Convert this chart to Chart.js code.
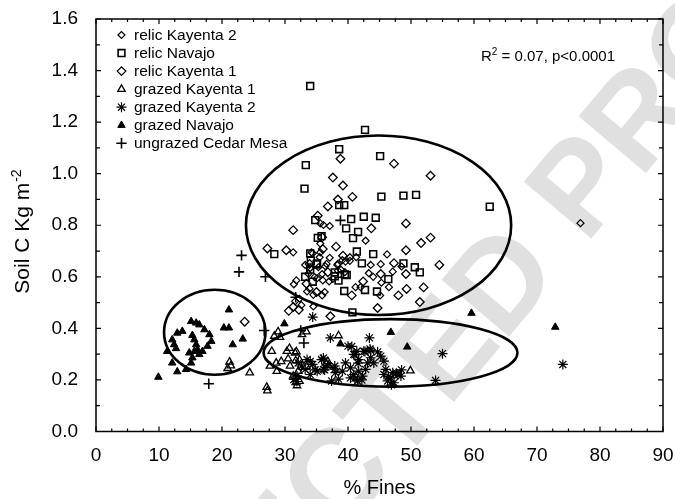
<!DOCTYPE html>
<html><head><meta charset="utf-8">
<script src="https://cdn.jsdelivr.net/npm/chart.js@4.4.0/dist/chart.umd.min.js"></script>
<style>html,body{margin:0;padding:0;background:#fff}#wrap{width:675px;height:499px;position:relative}</style>
</head><body><div id="wrap"><canvas id="c"></canvas></div>
<script>
// ---------------- data ----------------
const seriesNames = ["relic Kayenta 2","relic Navajo","relic Kayenta 1","grazed Kayenta 1","grazed Kayenta 2","grazed Navajo","ungrazed Cedar Mesa"];

const relicKayenta2 = [[35.6,0.807],[37.1,0.797],[36.1,0.801],[42.8,0.740],[46.2,0.687],[31.3,0.695],[34.4,0.691],[35.6,0.695],[37.1,0.674],[40.3,0.662],[43.6,0.646],[45.2,0.649],[33.2,0.646],[35.9,0.611],[38.9,0.627],[47.1,0.620],[43.3,0.614],[41.2,0.560],[45.3,0.577],[31.4,0.571],[33.5,0.543],[34.5,0.530],[35.9,0.528],[37.0,0.582],[45.1,0.528],[31.6,0.505],[34.5,0.485],[76.9,0.808],[35.6,0.729],[35.1,0.595],[34.0,0.634],[36.4,0.641],[38.3,0.646],[39.1,0.665],[39.6,0.659],[34.2,0.695],[35.5,0.676],[35.3,0.637],[36.6,0.650],[33.7,0.612],[34.7,0.599],[36.0,0.586],[37.6,0.592],[38.4,0.650],[40.3,0.676],[41.3,0.676],[38.4,0.624],[39.5,0.618],[33.9,0.554],[36.3,0.541],[32.3,0.515],[32.6,0.490],[31.8,0.586],[42.0,0.560],[44.0,0.600],[46.5,0.560],[48.5,0.640]];

const relicNavajo = [[34.0,1.34],[42.7,1.17],[38.6,1.095],[45.1,1.068],[33.3,1.033],[33.1,0.942],[45.3,0.911],[48.8,0.915],[50.8,0.918],[62.5,0.872],[38.6,0.878],[39.4,0.878],[40.5,0.824],[42.5,0.833],[44.4,0.829],[34.8,0.82],[39.7,0.788],[41.6,0.774],[40.8,0.75],[35.2,0.751],[35.8,0.758],[41.4,0.698],[44.0,0.688],[48.8,0.652],[50.6,0.637],[51.4,0.617],[46.4,0.591],[42.2,0.652],[34.0,0.691],[28.3,0.688],[35.1,0.652],[37.9,0.617],[39.8,0.607],[33.2,0.60],[34.4,0.581],[38.5,0.585],[39.4,0.545],[42.7,0.549],[44.6,0.543],[40.7,0.462],[34.1,0.663],[35.0,0.648],[34.0,0.628],[37.9,0.602],[39.5,0.609]];

const relicKayenta1 = [[38.8,1.058],[47.3,1.039],[53.1,0.992],[37.6,0.985],[39.2,0.954],[36.8,0.873],[38.4,0.900],[40.7,0.910],[35.2,0.837],[31.3,0.781],[49.2,0.807],[43.7,0.788],[35.9,0.753],[38.1,0.717],[53.1,0.752],[51.6,0.731],[49.2,0.703],[27.2,0.710],[30.2,0.703],[54.5,0.646],[47.3,0.653],[49.2,0.611],[52.0,0.559],[48.0,0.528],[51.4,0.502],[44.7,0.479],[37.2,0.447],[30.6,0.468],[32.2,0.472],[23.6,0.426],[45.2,0.611],[42.4,0.582],[36.0,0.708],[33.9,0.650],[39.2,0.682],[36.8,0.618],[33.4,0.573],[35.0,0.541],[31.3,0.483],[40.6,0.528],[49.3,0.553]];

const grazedKayenta1 = [[21.2,0.27],[21.4,0.255],[20.9,0.245],[24.4,0.228],[27.1,0.172],[27.2,0.158],[27.9,0.311],[28.3,0.37],[29.2,0.366],[28.6,0.266],[27.6,0.254],[28.7,0.234],[30.3,0.311],[31.6,0.305],[30.5,0.282],[31.7,0.275],[31.9,0.178],[31.7,0.19],[32.7,0.376],[38.5,0.372],[36.5,0.266],[36.9,0.257],[49.9,0.236],[30.8,0.254],[32.1,0.234],[31.3,0.215],[28.9,0.387],[33.4,0.387],[30.7,0.323],[31.8,0.31],[29.4,0.272],[32.3,0.278],[33.4,0.253],[36.8,0.272],[32.3,0.195]];

const grazedKayenta2 = [[74.1,0.26],[55.0,0.302],[53.9,0.198],[34.4,0.444],[37.2,0.363],[43.4,0.363],[40.0,0.331],[40.9,0.299],[42.5,0.311],[43.6,0.314],[44.7,0.309],[45.7,0.273],[41.7,0.279],[43.1,0.266],[40.4,0.247],[41.7,0.234],[39.1,0.234],[38.0,0.228],[36.1,0.241],[35.1,0.234],[33.2,0.241],[33.5,0.279],[32.1,0.266],[35.8,0.279],[37.4,0.196],[40.4,0.208],[41.5,0.196],[42.3,0.215],[45.7,0.221],[46.8,0.208],[47.9,0.221],[48.4,0.215],[46.3,0.196],[47.3,0.189],[46.0,0.241],[31.9,0.215],[31.4,0.202],[34.0,0.221],[39.6,0.266],[43.6,0.286],[45.2,0.292],[40.9,0.221],[42.8,0.241],[32.6,0.254],[34.4,0.26],[37.9,0.254],[36.8,0.254],[47.1,0.228],[44.1,0.266],[41.4,0.311],[40.6,0.33],[42.7,0.31],[43.5,0.32],[41.1,0.298],[41.6,0.265],[46.4,0.213],[47.7,0.226],[48.5,0.239],[46.9,0.181],[42.2,0.20],[41.1,0.207],[38.5,0.203],[37.9,0.242],[36.3,0.239],[34.8,0.239],[34.0,0.272],[36.1,0.285],[31.9,0.194]];

const grazedNavajo = [[9.9,0.211],[12.9,0.232],[12.1,0.266],[11.3,0.311],[12.1,0.356],[12.9,0.382],[13.7,0.389],[12.4,0.337],[12.7,0.322],[14.3,0.241],[15.1,0.266],[15.3,0.286],[14.8,0.305],[15.6,0.311],[15.3,0.373],[15.6,0.356],[15.9,0.337],[16.1,0.318],[16.4,0.299],[15.1,0.427],[15.9,0.421],[16.4,0.414],[17.2,0.395],[18.0,0.376],[18.3,0.35],[17.7,0.331],[16.9,0.311],[21.1,0.472],[20.3,0.402],[21.1,0.402],[23.3,0.359],[21.7,0.337],[29.9,0.418],[38.8,0.34],[46.8,0.385],[49.4,0.328],[59.6,0.459],[72.9,0.405]];

const ungrazedCedarMesa = [[23.1,0.683],[22.7,0.619],[26.9,0.60],[38.8,0.819],[31.7,0.521],[26.7,0.392],[33.0,0.343],[17.9,0.185],[32.5,0.392]];

const xTicks = [0,10,20,30,40,50,60,70,80,90];
const yTicks = [0,0.2,0.4,0.6,0.8,1.0,1.2,1.4,1.6];
const xMinorStep = 2.5, yMinorStep = 0.1;
const xTitle = "% Fines";
const yTitleMain = "Soil C Kg m", yTitleSup = "-2";
const statMain = "R", statSup = "2", statRest = " = 0.07, p<0.0001";
const watermark = "CORRECTED PROOF";
// group outlines (data units)
const ellipses = [
  {cx:44.85, cy:0.800, rx:21.05, ry:0.348},
  {cx:18.85, cy:0.385, rx:8.05, ry:0.165},
  {cx:46.75, cy:0.305, rx:20.15, ry:0.131}
];

// ---------------- styles ----------------
const styles = [
  {ps:'rectRot', r:3.5, bw:1.2, fill:false},
  {ps:'rect', r:4.8, bw:1.6, fill:false},
  {ps:'rectRot', r:4.3, bw:1.3, fill:false},
  {ps:'triangle', r:4.3, bw:1.3, fill:false},
  {ps:'star', r:5, bw:1.2, fill:false},
  {ps:'triangle', r:4.3, bw:1.0, fill:true},
  {ps:'cross', r:5.2, bw:1.6, fill:false}
];
const seriesData = [relicKayenta2, relicNavajo, relicKayenta1, grazedKayenta1, grazedKayenta2, grazedNavajo, ungrazedCedarMesa];

const FONT = '"Liberation Sans", Arial, Helvetica, sans-serif';

function marker(ctx, st, x, y){
  ctx.save();
  ctx.strokeStyle = '#000'; ctx.fillStyle = st.fill ? '#000' : 'rgba(0,0,0,0)';
  ctx.lineWidth = st.bw;
  if (Chart.helpers && Chart.helpers.drawPoint) {
    Chart.helpers.drawPoint(ctx, {pointStyle: st.ps, radius: st.r, rotation: 0, borderWidth: st.bw}, x, y);
  }
  ctx.restore();
}

const decor = {
  id: 'decor',
  beforeDraw(chart){
    const {ctx, width, height} = chart;
    ctx.save();
    ctx.fillStyle = '#fff'; ctx.fillRect(0,0,width,height);
    ctx.translate(433, 372);
    ctx.rotate(-50*Math.PI/180);
    ctx.font = 'bold 128px ' + FONT;
    ctx.fillStyle = '#e0e0e0';
    ctx.textAlign = 'center'; ctx.textBaseline = 'middle';
    ctx.fillText(watermark, 0, 0);
    ctx.restore();
  },
  afterDatasetsDraw(chart){
    const {ctx} = chart; const xs = chart.scales.x, ys = chart.scales.y;
    ctx.save();
    ctx.strokeStyle = '#000'; ctx.lineWidth = 2.6;
    ellipses.forEach(e => {
      const cx = xs.getPixelForValue(e.cx), cy = ys.getPixelForValue(e.cy);
      const rx = Math.abs(xs.getPixelForValue(e.cx + e.rx) - cx);
      const ry = Math.abs(ys.getPixelForValue(e.cy + e.ry) - cy);
      ctx.beginPath(); ctx.ellipse(cx, cy, rx, ry, 0, 0, Math.PI*2); ctx.stroke();
    });
    ctx.restore();
  },
  afterDraw(chart){
    const {ctx, chartArea:a} = chart; const xs = chart.scales.x, ys = chart.scales.y;
    ctx.save();
    ctx.strokeStyle = '#000'; ctx.lineWidth = 1.5;
    ctx.strokeRect(a.left, a.top, a.right - a.left, a.bottom - a.top);
    ctx.lineWidth = 1.2;
    ctx.beginPath();
    for (let v = 0; v <= 90.001; v += xMinorStep) {
      const px = xs.getPixelForValue(v);
      const major = xTicks.some(t => Math.abs(t - v) < 1e-6);
      const L = major ? 5 : 3;
      ctx.moveTo(px, a.bottom); ctx.lineTo(px, a.bottom - L);
      ctx.moveTo(px, a.top); ctx.lineTo(px, a.top + L);
    }
    for (let v = 0; v <= 1.6001; v += yMinorStep) {
      const py = ys.getPixelForValue(v);
      const major = yTicks.some(t => Math.abs(t - v) < 1e-6);
      const L = major ? 5 : 4;
      ctx.moveTo(a.left, py); ctx.lineTo(a.left + L, py);
      ctx.moveTo(a.right, py); ctx.lineTo(a.right - L, py);
    }
    ctx.stroke();

    // legend
    ctx.font = '15.5px ' + FONT; ctx.fillStyle = '#000';
    ctx.textAlign = 'left'; ctx.textBaseline = 'middle';
    seriesNames.forEach((n, i) => {
      const y = 35 + i * 18.05;
      marker(ctx, styles[i], 121.5, y);
      ctx.fillStyle = '#000';
      ctx.fillText(n, 134, y + 0.5);
    });

    // stat text
    ctx.font = '15px ' + FONT; ctx.textBaseline = 'alphabetic';
    let sx = 481, sy = 61;
    ctx.fillText(statMain, sx, sy); sx += ctx.measureText(statMain).width;
    ctx.font = '10px ' + FONT; ctx.fillText(statSup, sx, sy - 6); sx += ctx.measureText(statSup).width;
    ctx.font = '15px ' + FONT; ctx.fillText(statRest, sx, sy);

    // x title
    ctx.font = '20px ' + FONT; ctx.textAlign = 'center'; ctx.textBaseline = 'middle';
    ctx.fillText(xTitle, (a.left + a.right)/2, 488);

    // y title
    ctx.translate(22, 232); ctx.rotate(-Math.PI/2);
    ctx.font = '21px ' + FONT; const w1 = ctx.measureText(yTitleMain).width;
    ctx.font = '14px ' + FONT; const w2 = ctx.measureText(yTitleSup).width;
    const start = -(w1 + w2)/2;
    ctx.textAlign = 'left'; ctx.textBaseline = 'alphabetic';
    ctx.font = '21px ' + FONT; ctx.fillText(yTitleMain, start, 7);
    ctx.font = '14px ' + FONT; ctx.fillText(yTitleSup, start + w1 + 1, -1.5);
    ctx.restore();
  }
};

const chart = new Chart(document.getElementById('c'), {
  type: 'scatter',
  data: {
    datasets: seriesData.map((pts, i) => ({
      label: seriesNames[i],
      data: pts.map(([x, y]) => ({x, y})),
      pointStyle: styles[i].ps,
      pointRadius: styles[i].r,
      pointBorderWidth: styles[i].bw,
      pointBorderColor: '#000',
      pointBackgroundColor: styles[i].fill ? '#000' : 'rgba(0,0,0,0)',
      showLine: false
    }))
  },
  options: {
    responsive: true, maintainAspectRatio: false, animation: false,
    layout: {padding: {top: 19, right: 12, left: 0, bottom: 0}},
    plugins: {legend: {display: false}, tooltip: {enabled: false}},
    scales: {
      x: {
        type: 'linear', min: 0, max: 90,
        afterBuildTicks: s => { s.ticks = xTicks.map(v => ({value: v})); },
        afterFit: s => { s.height = 67.5; s.paddingLeft = 0; s.paddingRight = 0; },
        grid: {display: false, drawTicks: false}, border: {display: false},
        ticks: {font: {family: FONT, size: 19}, color: '#000', padding: 13, maxRotation: 0, autoSkip: false}
      },
      y: {
        type: 'linear', min: 0, max: 1.6,
        afterBuildTicks: s => { s.ticks = yTicks.map(v => ({value: v})); },
        afterFit: s => { s.width = 96; s.paddingTop = 0; s.paddingBottom = 0; },
        grid: {display: false, drawTicks: false}, border: {display: false},
        ticks: {font: {family: FONT, size: 19}, color: '#000', padding: 18, autoSkip: false,
          callback: v => Number(v).toFixed(1)}
      }
    }
  },
  plugins: [decor]
});
</script></body></html>
